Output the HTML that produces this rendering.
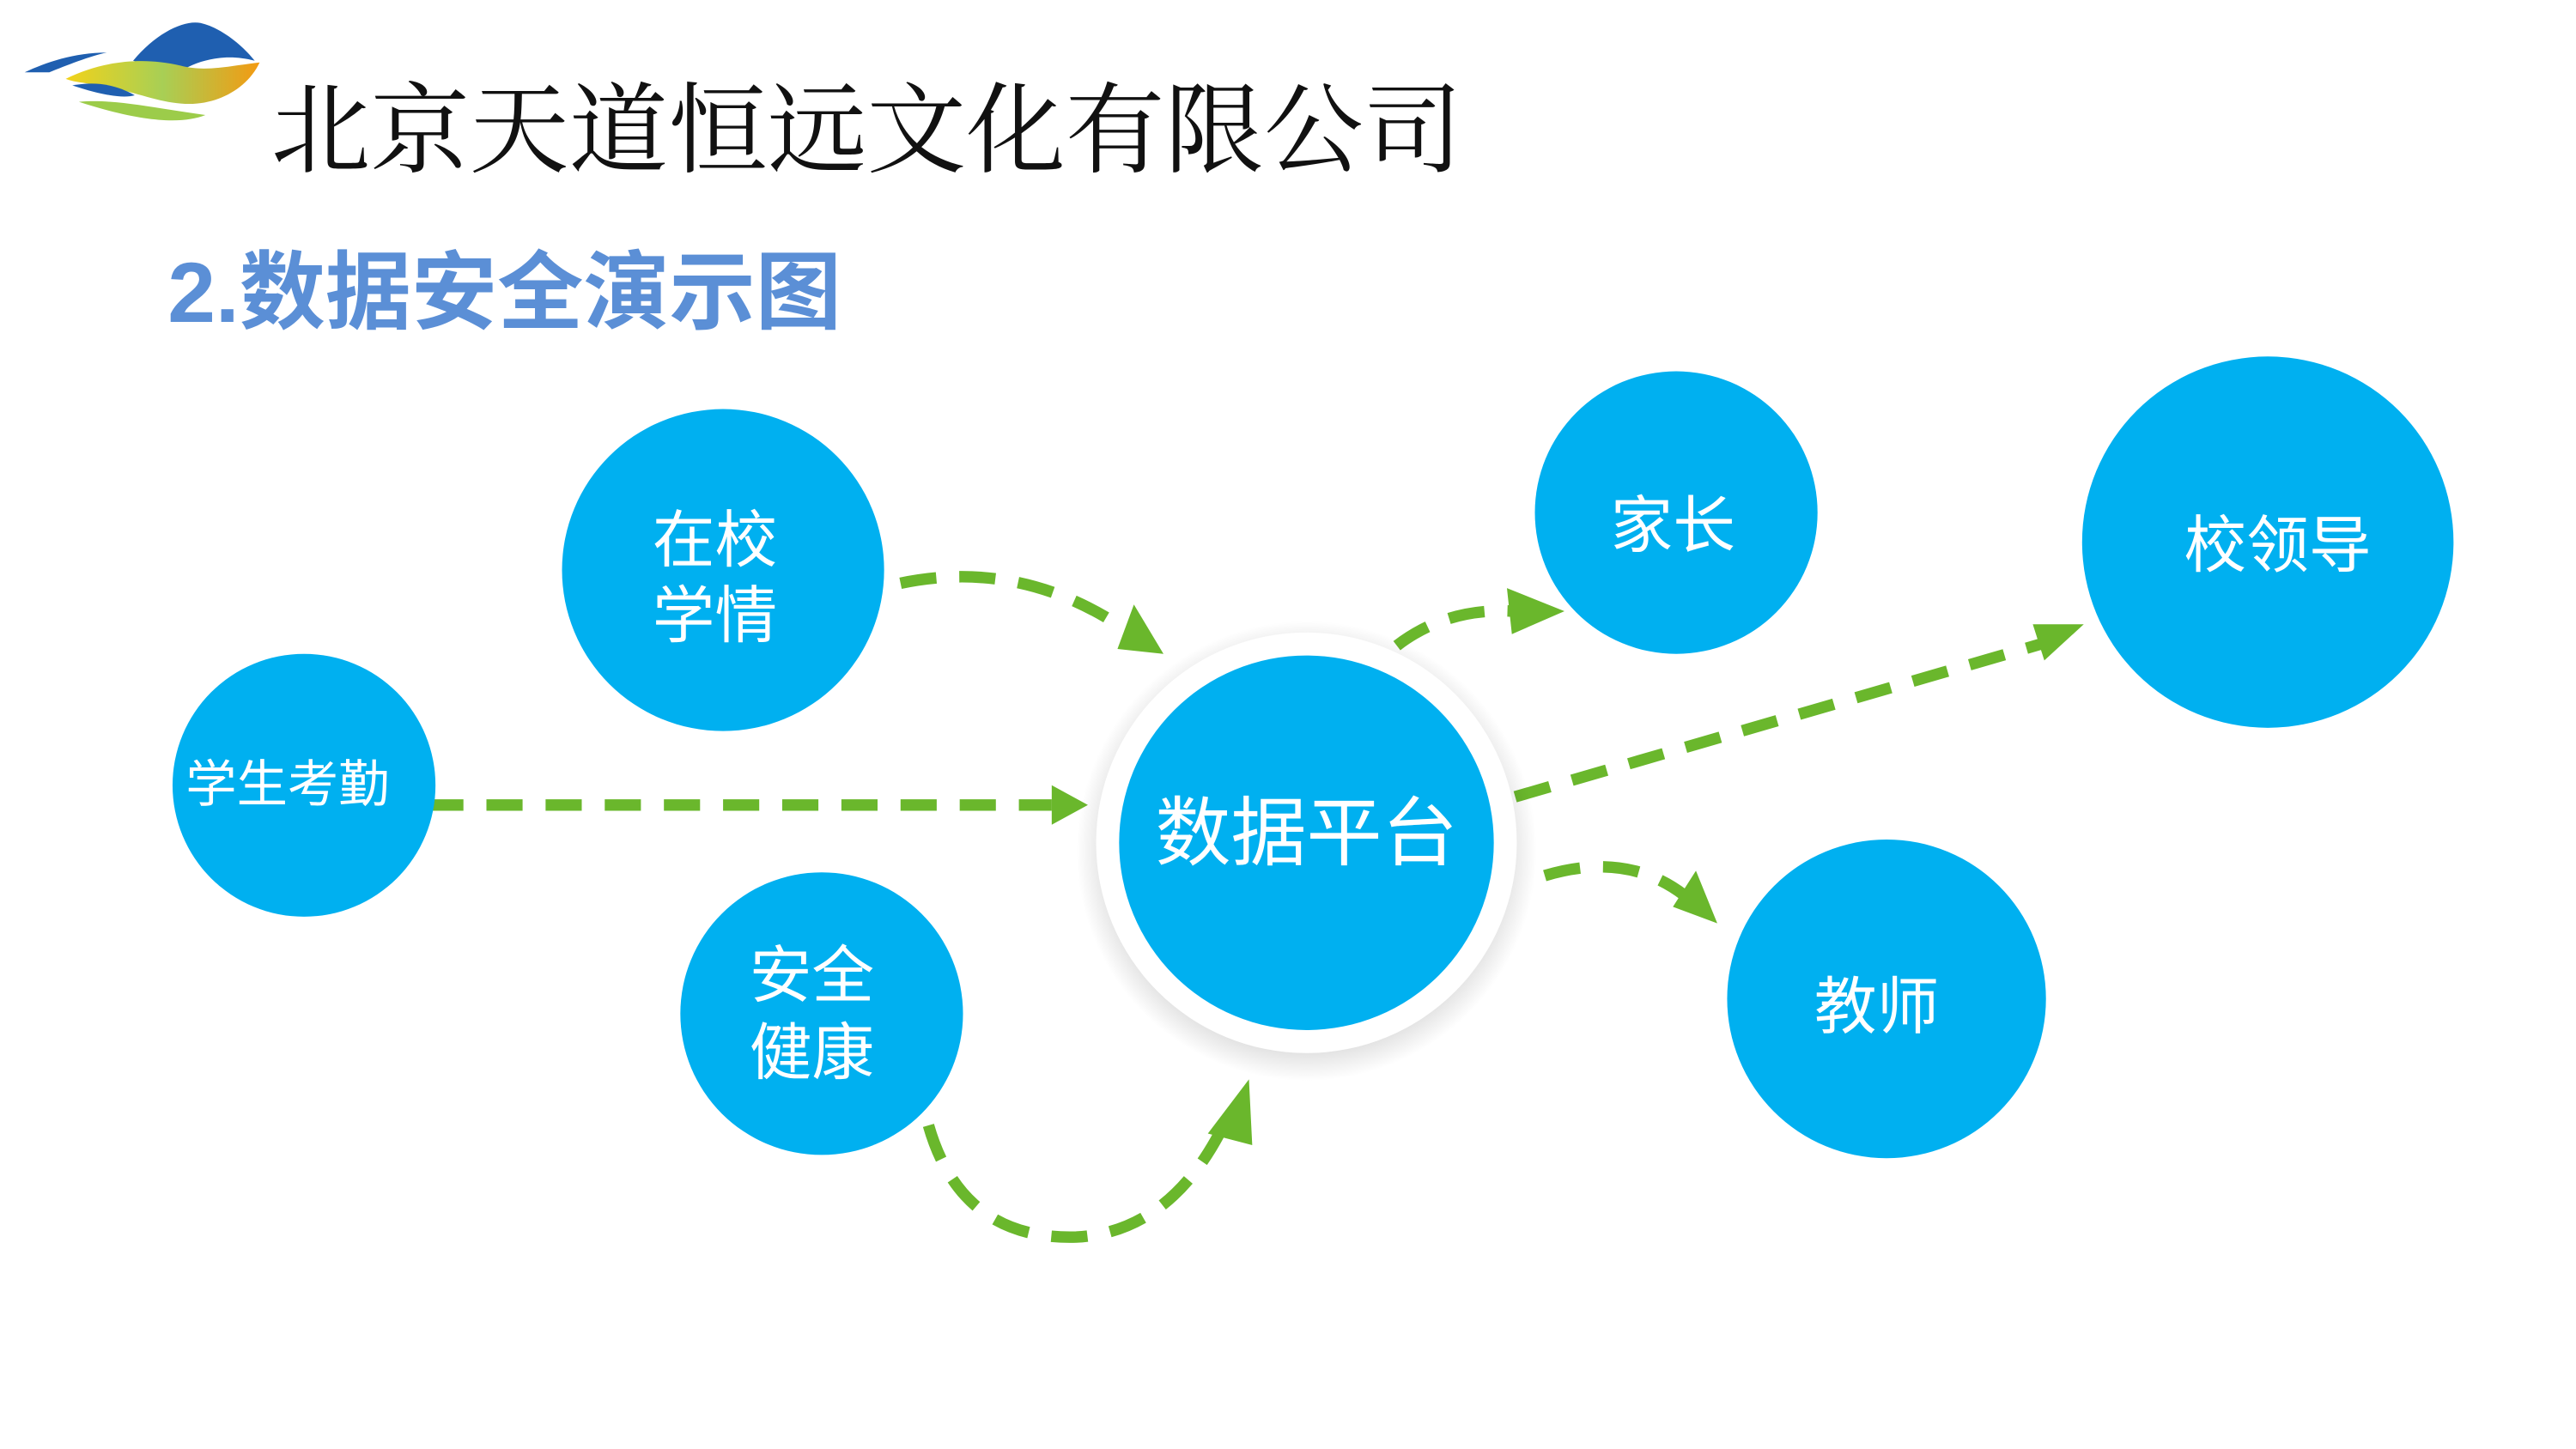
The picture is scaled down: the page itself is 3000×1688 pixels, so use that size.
<!DOCTYPE html>
<html><head><meta charset="utf-8"><style>
html,body{margin:0;padding:0;background:#fff;}
svg{display:block;}
</style></head><body>
<svg width="3000" height="1688" viewBox="0 0 1567.5 882" preserveAspectRatio="xMinYMin meet" xmlns="http://www.w3.org/2000/svg">
<defs>
<radialGradient id="sh" cx="0.5" cy="0.5" r="0.5">
<stop offset="0.8" stop-color="#000" stop-opacity="0.18"/>
<stop offset="1" stop-color="#000" stop-opacity="0"/>
</radialGradient>
<linearGradient id="mid" x1="0" x2="1"><stop offset="0" stop-color="#f2d21a"/><stop offset="0.5" stop-color="#a8cf55"/><stop offset="1" stop-color="#f39a12"/></linearGradient>
</defs>
<rect width="1567.5" height="882" fill="#fff"/>
<!-- logo -->
<path d="M81,37 C95,20 112,12 122,14 C135,17 148,28 155,37 C140,33 125,35 112,42 C100,42 90,40 81,37Z" fill="#1f5fb0"/>
<path d="M15,44 C28,38 45,32 65,32 C55,34 40,40 30,44Z" fill="#1f5fb0"/>
<path d="M40,48 C60,38 85,34 110,40 C125,44 140,40 158,38 C150,55 130,65 110,63 C95,62 80,55 60,52 C50,50 45,50 40,48Z" fill="url(#mid)"/>
<path d="M44,52 C55,50 68,50 82,58 C75,60 62,58 44,52Z" fill="#1f5fb0"/>
<path d="M48,62 C70,60 95,66 125,70 C110,76 85,74 48,62Z" fill="#9ccc4a"/>
<text x="165" y="100" font-family="'Noto Serif CJK SC','Liberation Serif',serif" font-size="60" fill="#111" textLength="725" lengthAdjust="spacingAndGlyphs">北京天道恒远文化有限公司</text>
<text x="102" y="196" font-family="'Liberation Sans','Noto Sans CJK SC',sans-serif" font-weight="bold" font-size="52" fill="#5b8fd6" textLength="410" lengthAdjust="spacingAndGlyphs">2.数据安全演示图</text>
<!-- connectors -->
<g stroke="#6ab72c" stroke-width="7" fill="none" stroke-dasharray="22 14">
<path d="M260,490 L640,490"/>
<path d="M548,355 Q620,340 683,382"/>
<path d="M565,685 Q585,755 655,753 Q710,750 742,690"/>
<path d="M850,393 Q880,370 920,372"/>
<path d="M922,485 L1242,392"/>
<path d="M940,533 Q990,518 1025,545"/>
</g>
<g fill="#6ab72c">
<polygon points="640,478 662,490 640,502"/>
<polygon points="708,398 680,395 690,368"/>
<polygon points="760,657 762,697 735,690"/>
<polygon points="952,372 920,386 917,358"/>
<polygon points="1268,380 1244,402 1237,380"/>
<polygon points="1045,562 1018,552 1032,530"/>
</g>
<!-- circles -->
<circle cx="795" cy="518" r="140" fill="url(#sh)"/>
<circle cx="795" cy="513" r="128" fill="#fff"/>
<g fill="#00b0f0">
<circle cx="440" cy="347" r="98"/>
<circle cx="185" cy="478" r="80"/>
<circle cx="500" cy="617" r="86"/>
<circle cx="795" cy="513" r="114"/>
<circle cx="1020" cy="312" r="86"/>
<circle cx="1380" cy="330" r="113"/>
<circle cx="1148" cy="608" r="97"/>
</g>
<g fill="#fff" font-family="'Liberation Sans','Noto Sans CJK SC',sans-serif" text-anchor="middle">
<text x="435" y="342" font-size="38">在校</text>
<text x="435" y="388" font-size="38">学情</text>
<text x="175" y="488" font-size="31">学生考勤</text>
<text x="494" y="607" font-size="38">安全</text>
<text x="494" y="654" font-size="38">健康</text>
<text x="795" y="523" font-size="46">数据平台</text>
<text x="1018" y="333" font-size="38">家长</text>
<text x="1386" y="345" font-size="38">校领导</text>
<text x="1142" y="626" font-size="38">教师</text>
</g>
</svg>
</body></html>
